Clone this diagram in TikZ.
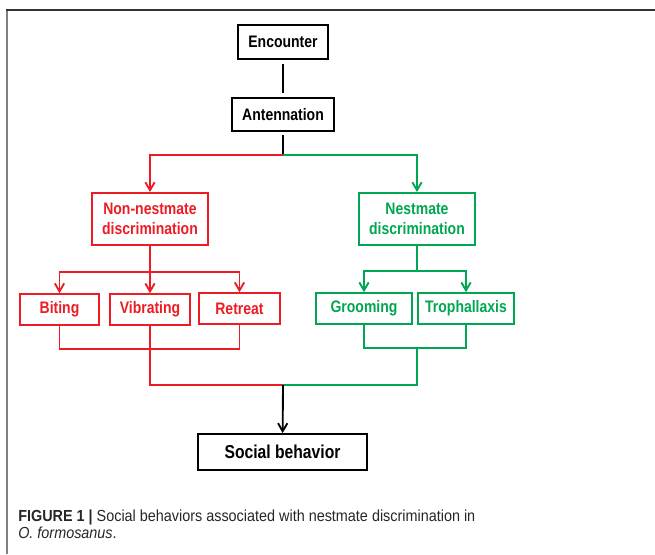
\documentclass[tikz,border=0pt]{standalone}
\usepackage{fontspec}
\setmainfont{Liberation Sans}[FakeStretch=0.84]
\newfontfamily\capfont{Liberation Sans}[FakeStretch=0.9]
\usetikzlibrary{positioning,arrows.meta}
\definecolor{nmred}{RGB}{237,28,36}
\definecolor{nmgreen}{RGB}{0,166,81}
\tikzset{
  box/.style={draw, line width=1.4pt, inner sep=0pt, align=center,
    font=\fontsize{12.5}{15}\selectfont\bfseries},
  redbox/.style={box, draw=nmred, text=nmred},
  greenbox/.style={box, draw=nmgreen, text=nmgreen},
  link/.style={line width=1.4pt},
  captext/.style={anchor=base west, inner sep=0pt, text=black!85,
    font=\capfont\fontsize{12}{14}\selectfont},
}

\begin{document}
\begin{tikzpicture}[x=0.75pt,y=-0.75pt,>={Straight Barb[length=6pt,width=7pt]}]
        \useasboundingbox (0,0) rectangle (655,554);
        % frame
        \draw[line width=1.4pt,gray] (7,554) -- (7,10);
        \draw[line width=1.4pt,black!80] (6,10) -- (655,10);

        \node[box,minimum width=67.5pt,minimum height=25.5pt] (enc) at (283,42) {Encounter};
        \node[box,minimum width=76.5pt,minimum height=24.75pt] (ant) at (283,114.5) {Antennation};
        \node[redbox,minimum width=87pt,minimum height=39pt] (nonnest) at (150,219) {Non-nestmate\\discrimination};
        \node[greenbox,minimum width=87pt,minimum height=39pt] (nest) at (417,219) {Nestmate\\discrimination};
        \node[redbox,minimum width=59pt,minimum height=23pt] (biting) at (59.5,309.5) {Biting};
        \node[redbox,minimum width=60pt,minimum height=23pt] (vib) at (150,309.5) {Vibrating};
        \node[redbox,minimum width=61pt,minimum height=23pt] (retreat) at (239.5,308.5) {Retreat};
        \node[greenbox,minimum width=72pt,minimum height=23pt] (groom) at (364,308.5) {Grooming};
        \node[greenbox,minimum width=72pt,minimum height=23pt] (troph) at (466,308.5) {Trophallaxis};
        \node[box,minimum width=127pt,minimum height=27pt,font=\fontsize{14}{16}\selectfont\bfseries] (social) at (282.5,452) {Social behavior};

        \coordinate (split) at (283,155);
        \coordinate (rsplit) at (150,272);
        \coordinate (gsplit) at (417,271);
        \coordinate (rbar) at (150,349);
        \coordinate (gbar) at (417,348);
        \coordinate (merge) at (283,385);

        % top
        \draw[link,shorten <=3pt,shorten >=3pt] (enc) -- (ant);
        \draw[link,shorten <=2pt] (ant) -- (split);
        \draw[link,nmred,->] (split) -| (nonnest);
        \draw[link,nmgreen,->] (split) -| (nest);
        % red branch
        \draw[link,nmred] (nonnest) -- (rsplit);
        \draw[link,nmred,->] (rsplit) -| (biting);
        \draw[link,nmred,->] (rsplit) -- (vib);
        \draw[link,nmred,->] (rsplit) -| (retreat);
        \draw[link,nmred] (biting) |- (rbar) -| (retreat);
        \draw[link,nmred] (vib) |- (merge);
        % green branch
        \draw[link,nmgreen] (nest) -- (gsplit);
        \draw[link,nmgreen,->] (gsplit) -| (groom);
        \draw[link,nmgreen,->] (gsplit) -| (troph);
        \draw[link,nmgreen] (groom) |- (gbar) -| (troph);
        \draw[link,nmgreen] (gbar) |- (merge);
        \draw[link,->] (merge) -- (social);

        \node[captext] (cap1) at (18,521) {\textbf{FIGURE 1 |} Social behaviors associated with nestmate discrimination in};
        \node[captext] (cap2) at (18,538) {\textit{O. formosanus}.};
    \end{tikzpicture}
\end{document}
